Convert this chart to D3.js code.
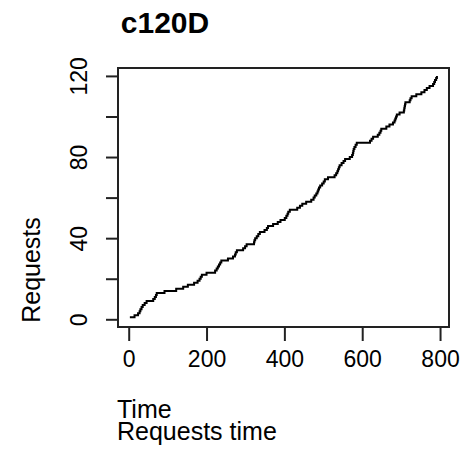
<!DOCTYPE html>
<html>
<head>
<meta charset="utf-8">
<script src="https://cdn.jsdelivr.net/npm/d3@7"></script>
<style>
  body { margin: 0; background: #fff; }
  text { font-family: "Liberation Sans", Arial, sans-serif; fill: #000; }
</style>
</head>
<body>
<div id="chart"></div>
<script>
// Step data: time at which the cumulative request count reaches each value
const reqTime = [
  3, 15, 24, 28, 30, 33, 36, 41, 46, 63,
  67, 70, 72, 92, 122, 140, 152, 168, 177, 182,
  185, 188, 200, 222, 226, 229, 232, 235, 238, 255,
  268, 273, 275, 278, 294, 299, 303, 322, 323, 325,
  329, 333, 337, 349, 355, 358, 371, 383, 390, 401,
  405, 408, 410, 414, 433, 440, 446, 456, 469, 475,
  478, 482, 485, 487, 489, 492, 497, 501, 504, 512,
  529, 533, 536, 538, 540, 542, 547, 552, 556, 568,
  574, 576, 577, 578, 580, 583, 586, 620, 624, 628,
  640, 644, 647, 649, 662, 670, 679, 683, 685, 687,
  689, 696, 707, 708, 709, 710, 711, 722, 724, 727,
  739, 752, 760, 766, 773, 782, 785, 787, 790, 792
];
const reqCount = [
  1, 2, 3, 4, 5, 6, 7, 8, 9, 10,
  11, 12, 13, 14, 15, 16, 17, 18, 19, 20,
  21, 22, 23, 24, 25, 26, 27, 28, 29, 30,
  31, 32, 33, 34, 35, 36, 37, 38, 39, 40,
  41, 42, 43, 44, 45, 46, 47, 48, 49, 50,
  51, 52, 53, 54, 55, 56, 57, 58, 59, 60,
  61, 62, 63, 64, 65, 66, 67, 68, 69, 70,
  71, 72, 73, 74, 75, 76, 77, 78, 79, 80,
  81, 82, 83, 84, 85, 86, 87, 88, 89, 90,
  91, 92, 93, 94, 95, 96, 97, 98, 99, 100,
  101, 102, 103, 104, 105, 106, 107, 108, 109, 110,
  111, 112, 113, 114, 115, 116, 117, 118, 119, 120
];

const xTicks = [0, 200, 400, 600, 800];
const yTicks = [0, 20, 40, 60, 80, 100, 120];
const yTickLabels = ['0', '', '40', '', '80', '', '120'];

const chartTitle = 'c120D';
const xTitle = 'Time';
const subTitle = 'Requests time';
const yTitle = 'Requests';

// Plot box
const box = {left: 118, right: 449, top: 68, bottom: 327};

const svg = d3.select('#chart')
  .append('svg')
  .attr('width', 460)
  .attr('height', 451);

const xScale = d3.scaleLinear()
  .domain([-27.5, 823])
  .range([box.left, box.right]);

const yScale = d3.scaleLinear()
  .domain([-3.8, 123.9])
  .range([box.bottom, box.top]);

const points = reqTime.map((t, i) => ({time: t, count: reqCount[i]}));

// Drawing the step line
const line = d3.line()
  .x(d => xScale(d.time))
  .y(d => yScale(d.count))
  .curve(d3.curveStepAfter);

svg.append('path')
  .datum(points)
  .attr('d', line)
  .attr('fill', 'none')
  .attr('stroke', '#000')
  .attr('stroke-width', 2);

// Frame
svg.append('rect')
  .attr('x', box.left)
  .attr('y', box.top)
  .attr('width', box.right - box.left)
  .attr('height', box.bottom - box.top)
  .attr('fill', 'none')
  .attr('stroke', '#222')
  .attr('stroke-width', 2);

// x axis
const xAxis = svg.append('g')
  .attr('transform', `translate(0,${box.bottom})`)
  .call(d3.axisBottom(xScale).tickValues(xTicks).tickSize(14).tickPadding(10));
xAxis.select('.domain').remove();
xAxis.selectAll('line').attr('stroke', '#222').attr('stroke-width', 2);
xAxis.selectAll('text').attr('font-size', 23).attr('font-family', null);

// y axis (labels parallel to the axis, as in base R)
const yAxis = svg.append('g')
  .attr('transform', `translate(${box.left},0)`)
  .call(d3.axisLeft(yScale).tickValues(yTicks)
    .tickFormat((d, i) => yTickLabels[i]).tickSize(12));
yAxis.select('.domain').remove();
yAxis.selectAll('line').attr('stroke', '#222').attr('stroke-width', 2);
yAxis.selectAll('text')
  .attr('font-size', 23)
  .attr('font-family', null)
  .attr('x', null).attr('dy', null)
  .attr('text-anchor', 'middle')
  .attr('transform', 'translate(-31,0) rotate(-90)');

// Titles
svg.append('text')
  .attr('x', 165)
  .attr('y', 33)
  .attr('text-anchor', 'middle')
  .attr('font-size', 30)
  .attr('font-weight', 'bold')
  .text(chartTitle);

svg.append('text')
  .attr('x', 117)
  .attr('y', 418)
  .attr('font-size', 25)
  .text(xTitle);

svg.append('text')
  .attr('x', 117)
  .attr('y', 440)
  .attr('font-size', 25)
  .text(subTitle);

svg.append('text')
  .attr('transform', 'translate(40,270) rotate(-90)')
  .attr('text-anchor', 'middle')
  .attr('font-size', 25)
  .text(yTitle);
</script>
</body>
</html>
